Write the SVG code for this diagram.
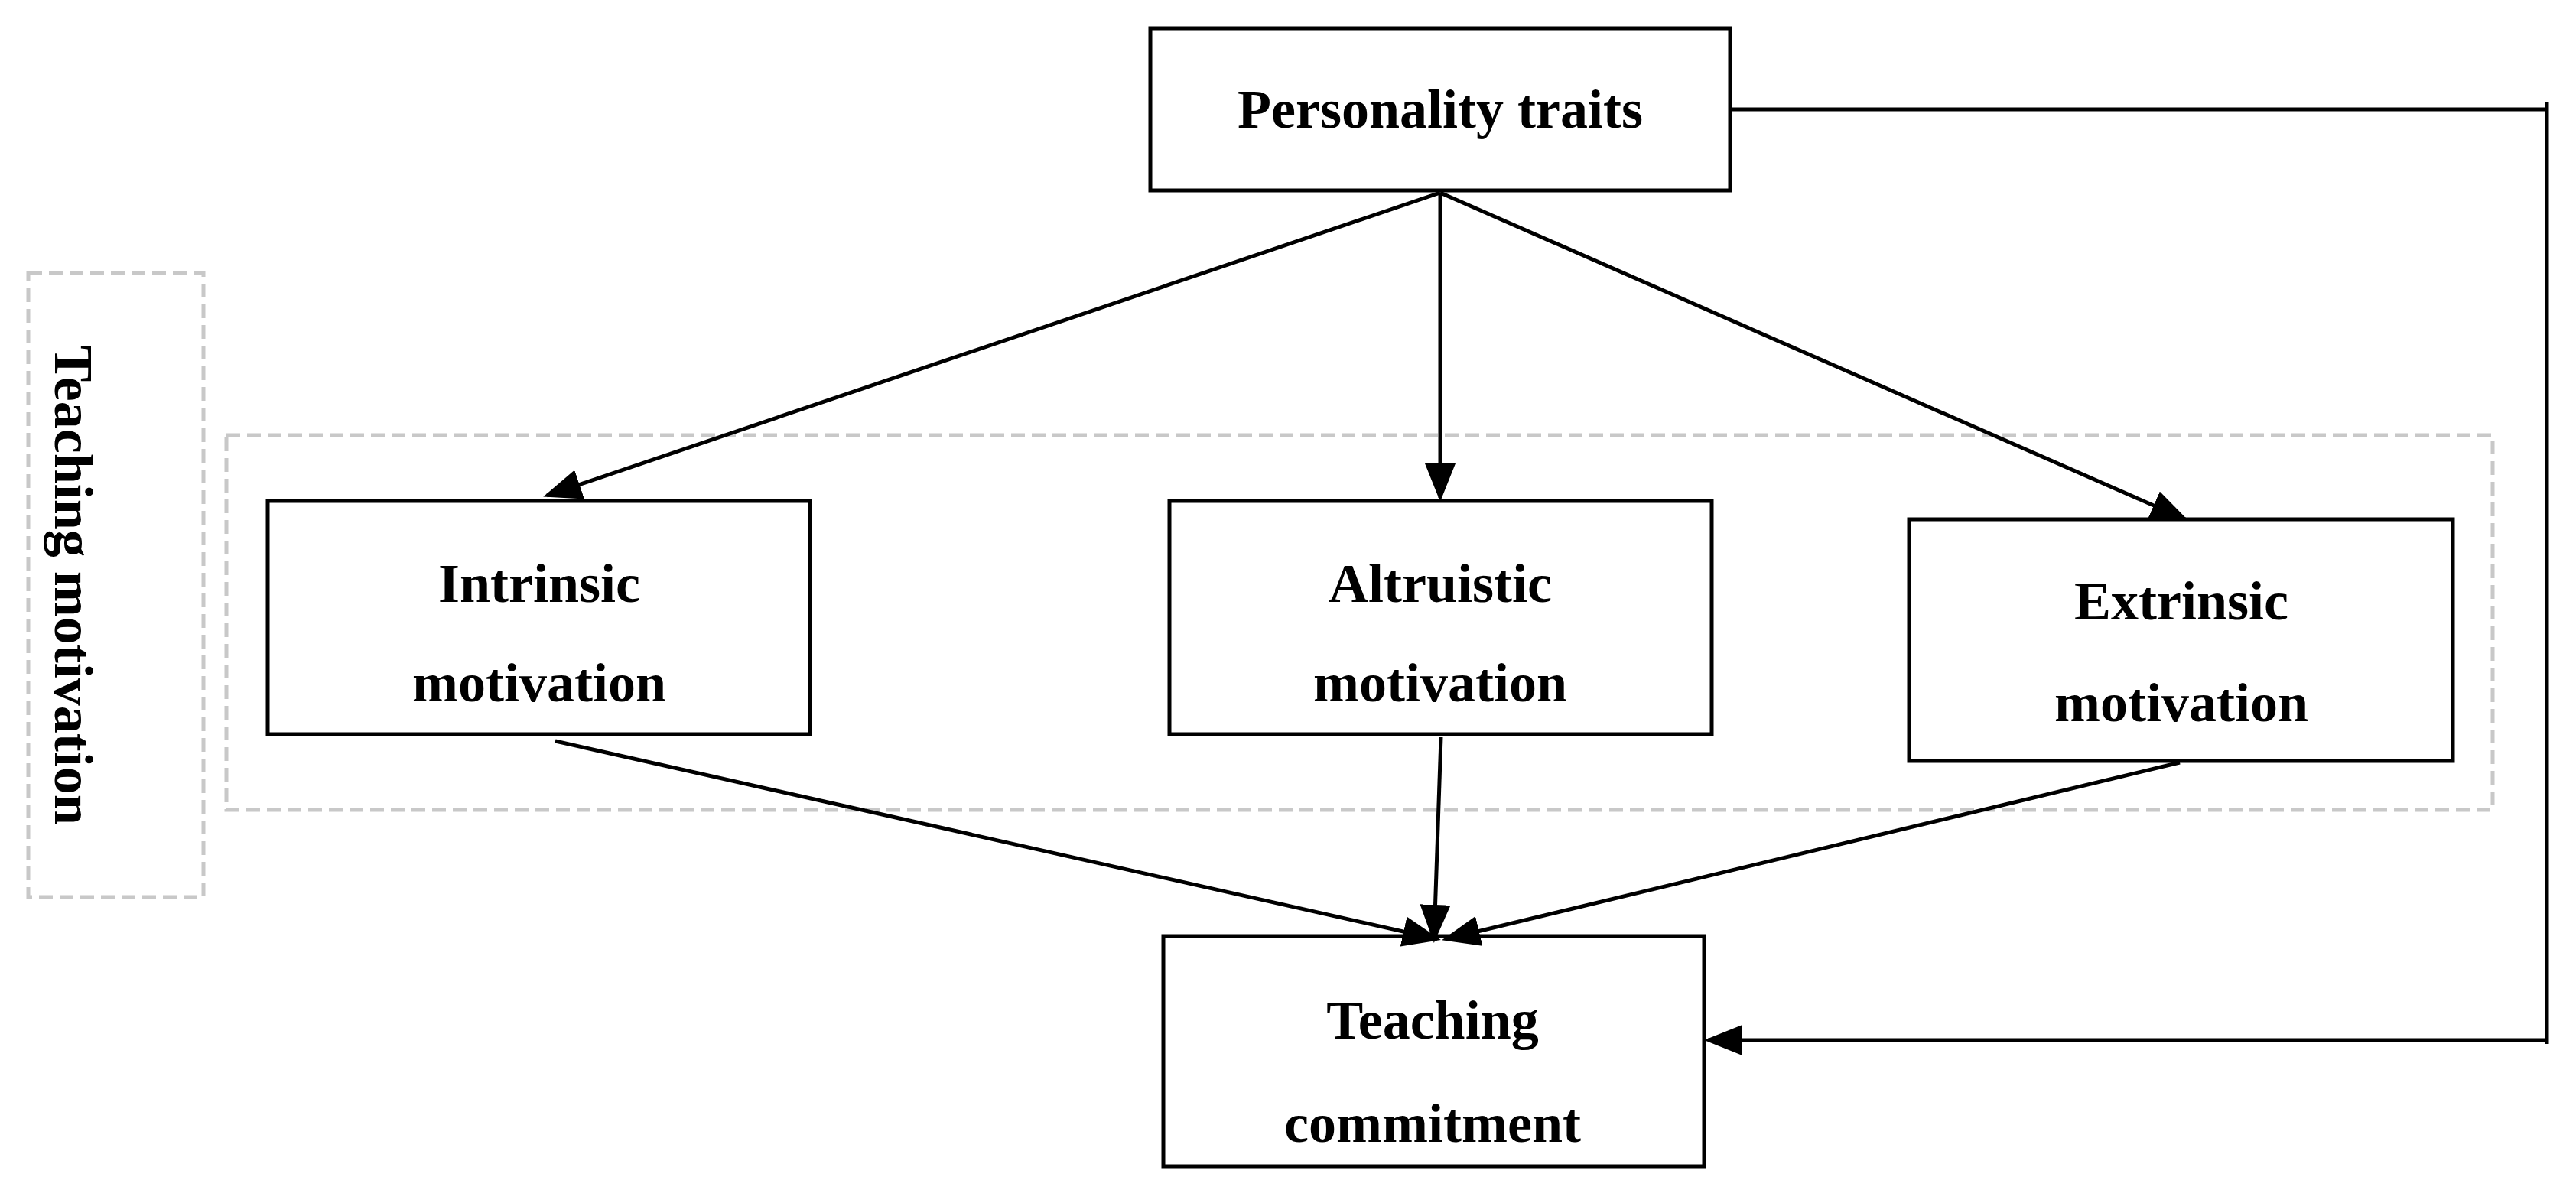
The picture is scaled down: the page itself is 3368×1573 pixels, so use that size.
<svg xmlns="http://www.w3.org/2000/svg" width="3368" height="1573" viewBox="0 0 3368 1573">
<style>
.box{fill:#fff;stroke:#000;stroke-width:5}
.dash{fill:none;stroke:#c8c8c8;stroke-width:5;stroke-dasharray:18 9}
.t{font-family:"Liberation Serif",serif;font-weight:bold;font-size:72px;text-anchor:middle;fill:#000}
.c{stroke:#000;stroke-width:5;fill:none}
</style>
<defs><marker id="a" markerWidth="10" markerHeight="8" refX="9" refY="4" orient="auto" markerUnits="strokeWidth"><path d="M0,0L10,4L0,8z" fill="#000"/></marker></defs>
<rect width="3368" height="1573" fill="#fff"/>
<g id="group-left"><rect class="dash" x="37" y="357" width="229" height="816"/><text class="t" transform="translate(97,765) rotate(90)" dy="25">Teaching motivation</text></g>
<g id="group-motivation"><rect class="dash" x="296" y="569" width="2963" height="490"/></g>
<g id="personality"><rect class="box" x="1504" y="37" width="758" height="212"/><text class="t" x="1883" y="167">Personality traits</text></g>
<g id="intrinsic"><rect class="box" x="350" y="655" width="709" height="305"/><text class="t" x="705" y="787">Intrinsic</text><text class="t" x="705" y="917">motivation</text></g>
<g id="altruistic"><rect class="box" x="1529" y="655" width="709" height="305"/><text class="t" x="1883" y="787">Altruistic</text><text class="t" x="1883" y="917">motivation</text></g>
<g id="extrinsic"><rect class="box" x="2496" y="679" width="711" height="316"/><text class="t" x="2852" y="810">Extrinsic</text><text class="t" x="2852" y="943">motivation</text></g>
<g id="commitment"><rect class="box" x="1521" y="1224" width="707" height="301"/><text class="t" x="1873" y="1358">Teaching</text><text class="t" x="1873" y="1493">commitment</text></g>
<g id="connectors">
<line class="c" x1="1883" y1="252" x2="715" y2="648" marker-end="url(#a)"/>
<line class="c" x1="1883" y1="252" x2="1883" y2="651" marker-end="url(#a)"/>
<line class="c" x1="1883" y1="252" x2="2857" y2="679" marker-end="url(#a)"/>
<line class="c" x1="726" y1="969" x2="1879" y2="1228" marker-end="url(#a)"/>
<line class="c" x1="1884" y1="964" x2="1875" y2="1228" marker-end="url(#a)"/>
<line class="c" x1="2850" y1="997" x2="1890" y2="1228" marker-end="url(#a)"/>
<polyline class="c" points="2262,143 3330,143"/>
<line class="c" x1="3330" y1="133" x2="3330" y2="1365"/>
<line class="c" x1="3330" y1="1360" x2="2233" y2="1360" marker-end="url(#a)"/>
</g>
</svg>
